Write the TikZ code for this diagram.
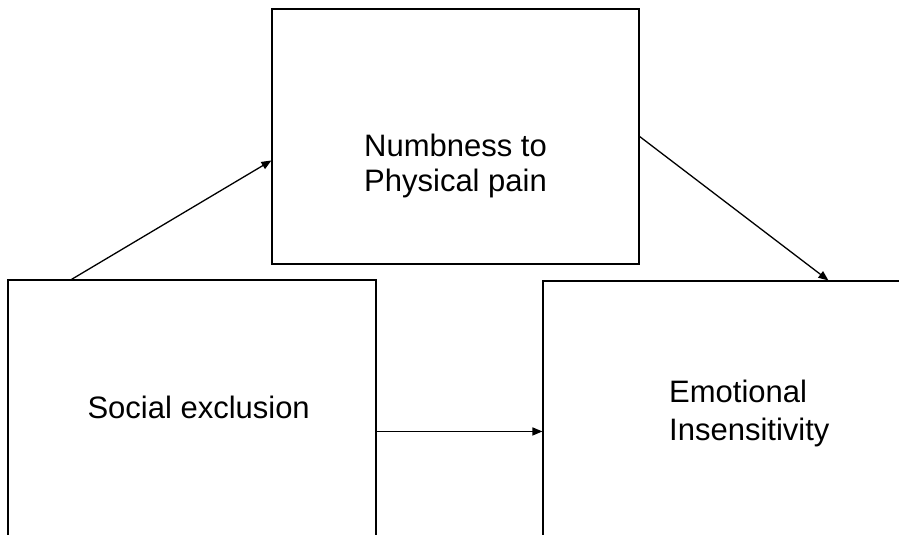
\documentclass[tikz,border=0pt]{standalone}
\usepackage{fontspec}
\setmainfont{Liberation Sans}
\usetikzlibrary{arrows.meta}
\newlength{\du}
\setlength{\du}{1pt}
\tikzset{
  box/.style={draw=black, line width=1.1\du, fill=white, inner sep=0pt},
  txt/.style={inner sep=0pt, font=\fontsize{31}{36}\selectfont},
  link/.style={line width=1.3\du, -{Triangle[length=10pt,width=8pt]}}
}

\begin{document}
\begin{tikzpicture}[x=1\du, y=-1\du]
\useasboundingbox (0,0) rectangle (899,535);
\clip (0,0) rectangle (899,535);
% boxes
\node[box, minimum width=367\du, minimum height=255\du] (numb) at (455.5,136.5) {};
\node[box, minimum width=368\du, minimum height=280\du] (social) at (192,420) {};
\node[box, minimum width=377\du, minimum height=279\du] (emo) at (731.5,420.5) {};
% texts
\node[txt, anchor=base west] (numbA) at (364,156) {Numbness to};
\node[txt, anchor=base west] (numbB) at (364,191) {Physical pain};
\node[txt, anchor=base east] (socialtxt) at (310,418) {Social exclusion};
\node[txt, anchor=base west] (emoA) at (669,402) {Emotional};
\node[txt, anchor=base west] (emoB) at (669,440) {Insensitivity};
% links
\draw[link] ([xshift=64\du]social.north west) -- ([yshift=-152\du]numb.north west);
\draw[link] ([yshift=-128\du]numb.north east) -- ([xshift=286\du]emo.north west);
\draw[link] ([yshift=-152\du]social.north east) -- ([yshift=-151\du]emo.north west);
\end{tikzpicture}
\end{document}
